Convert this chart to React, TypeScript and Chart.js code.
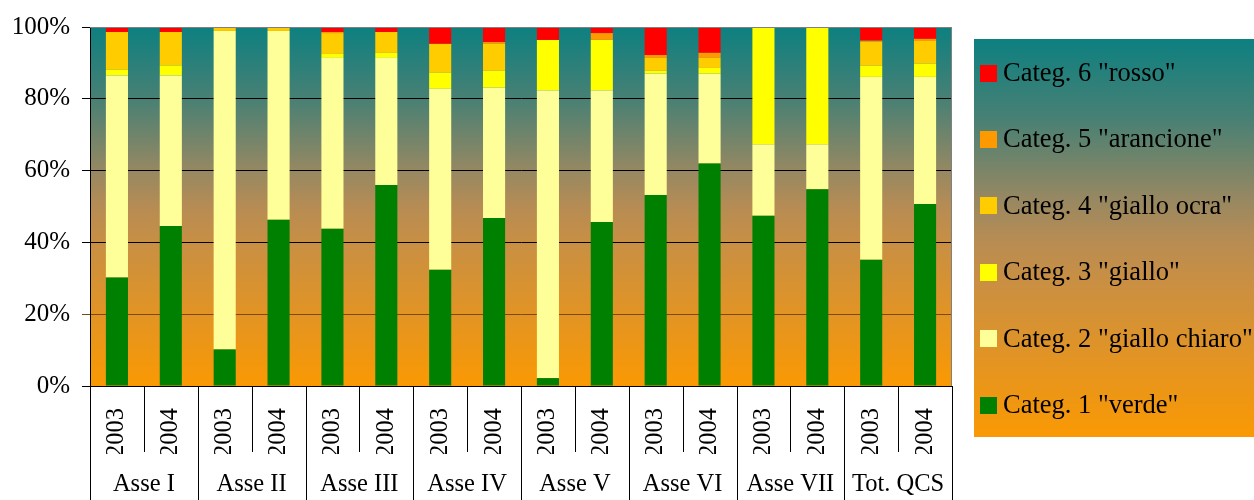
import React, { useEffect, useRef } from 'react';
import { Chart, registerables } from 'chart.js';

Chart.register(...registerables);

const groups = ['Asse I', 'Asse II', 'Asse III', 'Asse IV', 'Asse V', 'Asse VI', 'Asse VII', 'Tot. QCS'];
const years = ['2003', '2004', '2003', '2004', '2003', '2004', '2003', '2004', '2003', '2004', '2003', '2004', '2003', '2004', '2003', '2004'];

const verde = [30.2, 44.6, 10.2, 46.3, 43.8, 56.0, 32.4, 46.8, 2.2, 45.7, 53.2, 62.0, 47.4, 54.8, 35.2, 50.7];
const gialloChiaro = [56.3, 41.9, 88.7, 52.6, 47.6, 35.4, 50.4, 36.3, 80.1, 36.6, 33.8, 25.0, 19.9, 12.5, 50.9, 35.4];
const giallo = [1.6, 2.8, 0, 0, 1.1, 1.4, 4.5, 4.7, 14.1, 14.1, 0.8, 1.6, 32.7, 32.7, 3.1, 3.7];
const gialloOcra = [10.5, 9.3, 1.1, 1.1, 5.8, 5.8, 8.0, 7.5, 0, 0, 3.6, 2.8, 0, 0, 6.7, 6.3];
const arancione = [0, 0, 0, 0, 0.3, 0, 0, 0.5, 0, 1.9, 0.8, 1.4, 0, 0, 0.3, 0.6];
const rosso = [1.4, 1.4, 0, 0, 1.4, 1.4, 4.7, 4.2, 3.6, 1.7, 7.8, 7.2, 0, 0, 3.8, 3.3];

const seriesNames = [
  'Categ. 1 "verde"',
  'Categ. 2 "giallo chiaro"',
  'Categ. 3 "giallo"',
  'Categ. 4 "giallo ocra"',
  'Categ. 5 "arancione"',
  'Categ. 6 "rosso"',
];
const seriesValues = [verde, gialloChiaro, giallo, gialloOcra, arancione, rosso];
const seriesColors = ['#008000', '#FFFF99', '#FFFF00', '#FFCC00', '#FF9900', '#FF0000'];

const yMin = 0;
const yMax = 100;
const yStep = 20;

const FONT = "'Liberation Serif', 'Times New Roman', serif";

const gradientStops: [number, string][] = [
  [0, 'rgb(13,128,128)'],
  [0.2, 'rgb(72,128,116)'],
  [0.4, 'rgb(150,136,98)'],
  [0.5, 'rgb(182,140,84)'],
  [0.6, 'rgb(200,143,68)'],
  [0.8, 'rgb(226,148,36)'],
  [1, 'rgb(250,153,3)'],
];

function makeGradient(ctx: CanvasRenderingContext2D, top: number, bottom: number) {
  const g = ctx.createLinearGradient(0, top, 0, bottom);
  gradientStops.forEach(([t, c]) => g.addColorStop(t, c));
  return g;
}

const backgroundPlugin = {
  id: 'plotBackground',
  beforeDraw(chart: any) {
    const { ctx, chartArea } = chart;
    if (!chartArea) return;
    ctx.save();
    ctx.fillStyle = makeGradient(ctx, chartArea.top, chartArea.bottom);
    ctx.fillRect(chartArea.left, chartArea.top, chartArea.right - chartArea.left, chartArea.bottom - chartArea.top);
    ctx.restore();
  },
};

const decorPlugin = {
  id: 'decor',
  afterDraw(chart: any) {
    const { ctx, chartArea } = chart;
    const xs = chart.scales.x;
    const n = years.length;
    const w = (xs.right - xs.left) / n;
    ctx.save();
    // plot border
    ctx.strokeStyle = '#808080';
    ctx.lineWidth = 1;
    ctx.beginPath();
    ctx.moveTo(chartArea.left, Math.round(chartArea.top) + 0.5);
    ctx.lineTo(chartArea.right, Math.round(chartArea.top) + 0.5);
    ctx.moveTo(Math.round(chartArea.right) - 0.5, chartArea.top);
    ctx.lineTo(Math.round(chartArea.right) - 0.5, chartArea.bottom);
    ctx.stroke();
    // category separators below axis
    ctx.strokeStyle = '#000000';
    for (let i = 0; i <= n; i++) {
      const px = Math.round(xs.left + i * w) + 0.5;
      const yEnd = i % 2 === 0 ? chart.height : chartArea.bottom + 66;
      ctx.beginPath();
      ctx.moveTo(px, chartArea.bottom);
      ctx.lineTo(px, yEnd);
      ctx.stroke();
    }
    // legend
    const lx = 974;
    const ly = 39;
    const lh = 398;
    ctx.fillStyle = makeGradient(ctx, ly, ly + lh);
    ctx.fillRect(lx, ly, chart.width - lx, lh);
    const datasets = chart.data.datasets;
    const step = 66.4;
    ctx.font = `26.5px ${FONT}`;
    ctx.textBaseline = 'middle';
    ctx.textAlign = 'left';
    for (let k = 0; k < datasets.length; k++) {
      const ds = datasets[datasets.length - 1 - k];
      const cy = 73 + k * step;
      ctx.fillStyle = ds.backgroundColor;
      ctx.fillRect(980, Math.round(cy - 8.5), 17, 17);
      ctx.fillStyle = '#000000';
      ctx.fillText(ds.label, 1003, cy + 1);
    }
    ctx.restore();
  },
};

export default function App() {
  const canvasRef = useRef<HTMLCanvasElement | null>(null);

  useEffect(() => {
    document.body.style.margin = '0';
    const canvas = canvasRef.current;
    if (!canvas) return;
    const chart = new Chart(canvas, {
      type: 'bar',
      data: {
        labels: years,
        datasets: seriesValues.map((vals, i) => ({
          label: seriesNames[i],
          data: vals,
          backgroundColor: seriesColors[i],
          borderWidth: 0,
          categoryPercentage: 1,
          barPercentage: 0.41,
        })),
      },
      options: {
        responsive: false,
        animation: false,
        devicePixelRatio: 1,
        layout: { padding: { top: 25, right: 302, bottom: 0, left: 0 } },
        plugins: {
          legend: { display: false },
          tooltip: { enabled: false },
          title: { display: false },
        },
        scales: {
          x: {
            type: 'category',
            stacked: true,
            position: 'bottom',
            offset: true,
            grid: { display: false, drawTicks: false },
            border: { display: true, color: '#000000', width: 1 },
            ticks: {
              autoSkip: false,
              minRotation: 90,
              maxRotation: 90,
              padding: 22,
              color: '#000000',
              font: { family: FONT, size: 24.5 },
            },
            afterFit: (scale: any) => {
              scale.height = 68;
            },
          },
          x2: {
            type: 'category',
            labels: groups,
            position: 'bottom',
            offset: true,
            grid: { display: false, drawTicks: false },
            border: { display: false },
            ticks: {
              autoSkip: false,
              maxRotation: 0,
              minRotation: 0,
              padding: 16,
              color: '#000000',
              font: { family: FONT, size: 24.5 },
            },
            afterFit: (scale: any) => {
              scale.height = 46;
            },
          },
          y: {
            stacked: true,
            min: yMin,
            max: yMax,
            position: 'left',
            grid: {
              color: (ctx: any) => (ctx.tick && ctx.tick.value === 20 ? '#7a4a12' : '#000000'),
              lineWidth: 1,
              drawTicks: true,
              tickLength: 8,
            },
            border: { display: true, color: '#000000', width: 1 },
            ticks: {
              stepSize: yStep,
              padding: 12,
              color: '#000000',
              font: { family: FONT, size: 25 },
              callback: (v: any) => `${v}%`,
            },
            afterFit: (scale: any) => {
              scale.width = 90;
            },
          },
        },
      },
      plugins: [backgroundPlugin, decorPlugin],
    });
    return () => {
      chart.destroy();
    };
  }, []);

  return (
    <div style={{ width: 1254, height: 500 }}>
      <canvas ref={canvasRef} width={1254} height={500} style={{ display: 'block' }} />
    </div>
  );
}
